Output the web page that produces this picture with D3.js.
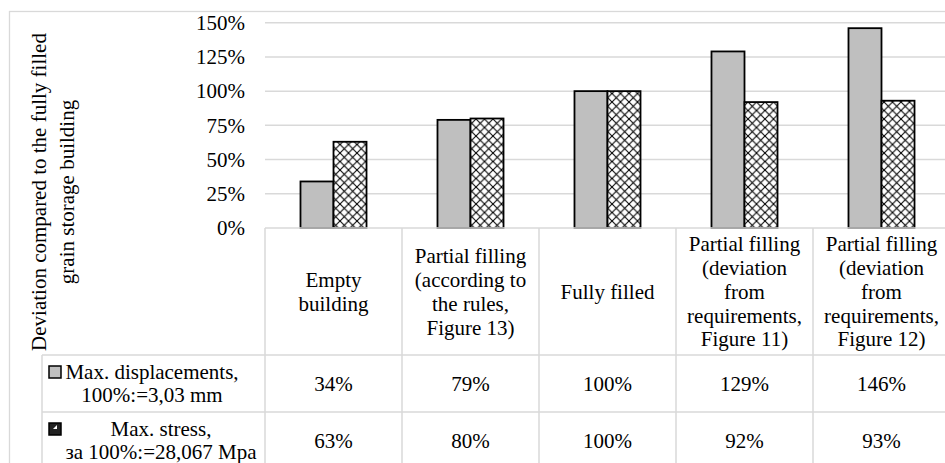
<!DOCTYPE html>
<html>
<head>
<meta charset="utf-8">
<script src="https://cdn.jsdelivr.net/npm/d3@7"></script>
<style>
  html, body { margin: 0; padding: 0; background: #fff; }
  svg { display: block; }
  svg text { font-family: "Liberation Serif", "Tinos", "Times New Roman", "Nimbus Roman", "DejaVu Serif", serif !important; fill: #000; }
</style>
</head>
<body>
<svg id="chart" width="945" height="463"></svg>
<script>
// Category header lines (wrapped as in the data table)
const categories = [
  ["Empty", "building"],
  ["Partial filling", "(according to", "the rules,", "Figure 13)"],
  ["Fully filled"],
  ["Partial filling", "(deviation", "from", "requirements,", "Figure 11)"],
  ["Partial filling", "(deviation", "from", "requirements,", "Figure 12)"]
];
const seriesNames = ["displacement", "stress"];
const seriesLabels = [
  ["Max. displacements,", "100%:=3,03 mm"],
  ["Max. stress,", "за 100%:=28,067 Mpa"]
];
const displacement = [34, 79, 100, 129, 146];
const stress = [63, 80, 100, 92, 93];
const yTicks = [0, 25, 50, 75, 100, 125, 150];
const yTitle = ["Deviation compared to the fully filled", "grain storage building"];

const FONT = '"Liberation Serif", "Tinos", "Times New Roman", "Nimbus Roman", "DejaVu Serif", serif';
const svg = d3.select("#chart").attr("font-family", FONT);
const GRID = "#d9d9d9";
const FS = 21;

// plot geometry
const plotLeft = 265, plotRight = 950, plotTop = 22.7, plotBottom = 228;
const headerBottom = 355, row1Bottom = 412, row2Bottom = 469;
const tableLeft = 42;

// hatch pattern for the stress series
const defs = svg.append("defs");
const pat = defs.append("pattern")
  .attr("id", "cross").attr("patternUnits", "userSpaceOnUse")
  .attr("width", 8.5).attr("height", 8.5);
pat.append("rect").attr("width", 8.5).attr("height", 8.5).attr("fill", "#fff");
pat.append("path").attr("d", "M0,0L8.5,8.5M8.5,0L0,8.5")
  .attr("stroke", "#000").attr("stroke-width", 1.1).attr("fill", "none");
const patSmall = defs.append("pattern")
  .attr("id", "crossSmall").attr("patternUnits", "userSpaceOnUse")
  .attr("width", 12).attr("height", 12);
patSmall.append("rect").attr("width", 12).attr("height", 12).attr("fill", "#222");
patSmall.append("path").attr("d", "M5,9L9,5L9,9Z").attr("fill", "#fff");

// outer chart frame
svg.append("rect").attr("x", 9.5).attr("y", 11.5).attr("width", 960).attr("height", 480)
  .attr("fill", "none").attr("stroke", GRID).attr("stroke-width", 1.3);

const y = d3.scaleLinear().domain([0, 150]).range([plotBottom, plotTop]);
const x0 = d3.scaleBand().domain(d3.range(categories.length))
  .range([plotLeft, plotRight]).paddingInner(0.518).paddingOuter(0.259);
const x1 = d3.scaleBand().domain(seriesNames).range([0, x0.bandwidth()]);

// gridlines
svg.append("g").selectAll("line").data(yTicks.filter(d => d > 0)).join("line")
  .attr("x1", plotLeft).attr("x2", plotRight)
  .attr("y1", d => y(d)).attr("y2", d => y(d))
  .attr("stroke", GRID).attr("stroke-width", 1.5);

// y axis tick labels
const yAxis = d3.axisLeft(y).tickValues(yTicks).tickFormat(d => d + "%").tickSize(0).tickPadding(0);
const ya = svg.append("g").attr("transform", "translate(245,0)").call(yAxis)
  .attr("font-family", FONT).attr("font-size", FS);
ya.select(".domain").remove();
ya.selectAll("text").attr("fill", "#000");

// y axis title
const yt = svg.append("text").attr("transform", "translate(0,192) rotate(-90)")
  .attr("text-anchor", "middle").attr("font-size", FS);
yTitle.forEach((t, i) => yt.append("tspan").attr("x", 0).attr("y", 46 + i * 28).text(t));

// bars
const series = [displacement, stress];
const fills = ["#bfbfbf", "url(#cross)"];
series.forEach((vals, si) => {
  svg.append("g").selectAll("rect").data(vals).join("rect")
    .attr("x", (d, i) => x0(i) + x1(seriesNames[si]))
    .attr("width", x1.bandwidth())
    .attr("y", d => y(d))
    .attr("height", d => y(0) - y(d))
    .attr("fill", fills[si])
    .attr("stroke", "#000").attr("stroke-width", 1.8);
});

// data table
const step = x0.step();
const colEdges = d3.range(categories.length + 1).map(i => plotLeft + i * step);
const tg = svg.append("g").attr("stroke", GRID).attr("stroke-width", 1.5);
// horizontal rules
tg.append("line").attr("x1", plotLeft).attr("x2", plotRight).attr("y1", plotBottom).attr("y2", plotBottom);
[headerBottom, row1Bottom, row2Bottom].forEach(yy =>
  tg.append("line").attr("x1", tableLeft).attr("x2", plotRight).attr("y1", yy).attr("y2", yy));
// vertical rules
tg.append("line").attr("x1", tableLeft).attr("x2", tableLeft).attr("y1", headerBottom).attr("y2", row2Bottom);
colEdges.forEach(xx =>
  tg.append("line").attr("x1", xx).attr("x2", xx).attr("y1", plotBottom).attr("y2", row2Bottom));

// category headers
const LH = 23.8;
categories.forEach((lines, i) => {
  const cx = x0(i) + x0.bandwidth() / 2;
  const cy = (plotBottom + headerBottom) / 2;
  const t = svg.append("text").attr("text-anchor", "middle").attr("font-size", FS);
  lines.forEach((ln, k) => t.append("tspan").attr("x", cx)
    .attr("y", cy + (k - (lines.length - 1) / 2) * LH).attr("dy", "0.35em").text(ln));
});

// value rows
const rowBounds = [[headerBottom, row1Bottom], [row1Bottom, row2Bottom]];
series.forEach((vals, si) => {
  const cy = (rowBounds[si][0] + rowBounds[si][1]) / 2;
  svg.append("g").selectAll("text").data(vals).join("text")
    .attr("x", (d, i) => x0(i) + x0.bandwidth() / 2)
    .attr("y", cy).attr("dy", "0.35em")
    .attr("text-anchor", "middle").attr("font-size", FS)
    .text(d => d + "%");
});

// series labels with legend keys
const labelCenters = [152, 161];
seriesLabels.forEach((lines, si) => {
  const cy = (rowBounds[si][0] + rowBounds[si][1]) / 2;
  const t = svg.append("text").attr("text-anchor", "middle").attr("font-size", FS);
  lines.forEach((ln, k) => t.append("tspan").attr("x", labelCenters[si])
    .attr("y", cy + (k - 0.5) * 23).attr("dy", "0.35em").text(ln));
  const ky = cy - 11.5;
  svg.append("rect").attr("x", 49).attr("y", ky - 6).attr("width", 12).attr("height", 12)
    .attr("fill", si === 0 ? "#bfbfbf" : "url(#crossSmall)")
    .attr("stroke", "#000").attr("stroke-width", 1.5);
});
</script>
</body>
</html>
